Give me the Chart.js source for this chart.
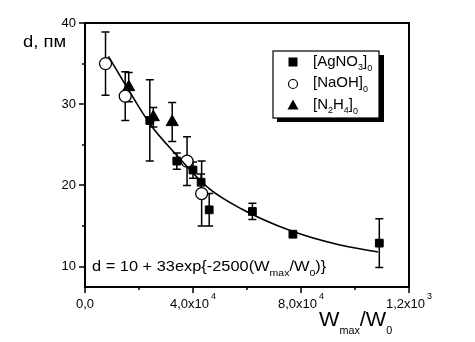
<!DOCTYPE html>
<html>
<head>
<meta charset="utf-8">
<script src="https://cdn.jsdelivr.net/npm/chart.js@4.4.1/dist/chart.umd.min.js"></script>
<style>
  body { margin: 0; background: #fff; }
  #wrap { width: 475px; height: 342px; }
</style>
</head>
<body>
<div id="wrap"><canvas id="chart" width="475" height="342"></canvas></div>
<script>
// values
const agX   = [24000, 34000, 40000, 43000, 46000, 62000, 77000, 109000];
const agY   = [28.0, 23.0, 21.9, 20.4, 17.0, 16.8, 14.0, 12.9];
const agErr = [5.0, 1.0, 1.0, 1.0, 2.0, 1.0, 0.3, 3.0];

const naX   = [7600, 14900, 37800, 43200];
const naY   = [35.0, 31.0, 23.0, 19.0];
const naErr = [3.9, 3.0, 3.0, 4.0];

const n2X   = [16200, 25300, 32300];
const n2Y   = [32.1, 28.4, 27.8];
const n2Err = [1.8, 1.2, 2.4];

// fit curve, traced point by point
const fitX = [8700, 15500, 24000, 34000, 46000, 58000, 76000, 94000, 108500];
const fitY = [35.9, 32.1, 27.6, 23.7, 19.6, 17.1, 14.45, 12.7, 11.8];

const xTicks = [0, 40000, 80000, 120000];
const xMinor = [20000, 60000, 100000];
const xTickText = [["0,0", ""], ["4,0x10", "4"], ["8,0x10", "4"], ["1,2x10", "3"]];
const yTicks = [10, 20, 30, 40];
const yMinor = [15, 25, 35];

const FONT = "'Liberation Sans', Arial, sans-serif";

const toPts = (xs, ys) => xs.map((x, i) => ({ x: x, y: ys[i] }));

// draws text runs: [text, size, dy], stretched horizontally by sx
function runs(ctx, x, y, parts, sx) {
  ctx.save();
  ctx.translate(x, y);
  ctx.scale(sx, 1);
  let cx = 0;
  parts.forEach(p => {
    ctx.font = p[1] + "px " + FONT;
    ctx.fillText(p[0], cx, p[2]);
    cx += ctx.measureText(p[0]).width;
  });
  ctx.restore();
}
function runsWidth(ctx, parts, sx) {
  let w = 0;
  parts.forEach(p => { ctx.font = p[1] + "px " + FONT; w += ctx.measureText(p[0]).width; });
  return w * sx;
}

const errorBars = {
  id: "errorBars",
  beforeDatasetsDraw(chart) {
    const ctx = chart.ctx, xs = chart.scales.x, ys = chart.scales.y;
    ctx.save();
    ctx.strokeStyle = "#000";
    ctx.lineWidth = 1.5;
    [[agX, agY, agErr], [naX, naY, naErr], [n2X, n2Y, n2Err]].forEach(s => {
      s[0].forEach((xv, i) => {
        if (s[2][i] < 0.5) return;
        const px = xs.getPixelForValue(xv);
        const top = ys.getPixelForValue(s[1][i] + s[2][i]);
        const bot = ys.getPixelForValue(s[1][i] - s[2][i]);
        ctx.beginPath();
        ctx.moveTo(px, top); ctx.lineTo(px, bot);
        ctx.moveTo(px - 4, top); ctx.lineTo(px + 4, top);
        ctx.moveTo(px - 4, bot); ctx.lineTo(px + 4, bot);
        ctx.stroke();
      });
    });
    ctx.restore();
  }
};

const frame = {
  id: "frame",
  afterDraw(chart) {
    const ctx = chart.ctx, a = chart.chartArea;
    const xs = chart.scales.x, ys = chart.scales.y;
    ctx.save();
    ctx.strokeStyle = "#000";
    ctx.fillStyle = "#000";
    ctx.lineWidth = 2;
    ctx.strokeRect(a.left, a.top, a.right - a.left, a.bottom - a.top);

    ctx.lineWidth = 1.5;
    ctx.beginPath();
    yTicks.forEach(v => { const p = Math.round(ys.getPixelForValue(v)); ctx.moveTo(a.left, p); ctx.lineTo(a.left - 6, p); });
    yMinor.forEach(v => { const p = Math.round(ys.getPixelForValue(v)); ctx.moveTo(a.left, p); ctx.lineTo(a.left - 3, p); });
    xTicks.forEach(v => { const p = Math.round(xs.getPixelForValue(v)); ctx.moveTo(p, a.bottom); ctx.lineTo(p, a.bottom + 6); });
    xMinor.forEach(v => { const p = Math.round(xs.getPixelForValue(v)); ctx.moveTo(p, a.bottom); ctx.lineTo(p, a.bottom + 3); });
    ctx.stroke();

    // y tick labels
    ctx.textBaseline = "middle";
    ctx.textAlign = "right";
    ctx.font = "13px " + FONT;
    yTicks.forEach(v => ctx.fillText(String(v), a.left - 9, ys.getPixelForValue(v)));

    // x tick labels with superscript
    ctx.textAlign = "left";
    xTicks.forEach((v, i) => {
      const main = xTickText[i][0], sup = xTickText[i][1];
      const mw = runsWidth(ctx, [[main, 13, 0]], 1);
      const w = mw + (sup ? runsWidth(ctx, [[sup, 9, 0]], 1) + 2 : 0);
      const px = xs.getPixelForValue(v) - w / 2;
      ctx.font = "13px " + FONT;
      ctx.fillText(main, px, a.bottom + 17);
      if (sup) {
        ctx.font = "9px " + FONT;
        ctx.fillText(sup, px + mw + 2, a.bottom + 10);
      }
    });

    // axis titles
    runs(ctx, 23, 43, [["d, пм", 16, 0]], 1.15);
    runs(ctx, 319, 320, [["W", 20, 0], ["max", 10, 11], ["/W", 20, 0], ["0", 10, 11]], 1.08);

    // formula
    runs(ctx, 92, 267, [["d = 10 + 33exp{-2500(W", 14, 0], ["max", 9, 7], ["/W", 14, 0], ["0", 9, 7], [")}", 14, 0]], 1.17);

    // legend box
    ctx.fillStyle = "#000";
    ctx.fillRect(277, 55, 107, 67);
    ctx.fillStyle = "#fff";
    ctx.fillRect(273, 51, 106, 67);
    ctx.lineWidth = 1.2;
    ctx.strokeRect(273, 51, 106, 67);
    ctx.fillStyle = "#000";
    ctx.fillRect(288.5, 57.5, 9, 9);
    ctx.beginPath(); ctx.arc(293, 84, 4.5, 0, Math.PI * 2); ctx.stroke();
    ctx.beginPath(); ctx.moveTo(293, 99.5); ctx.lineTo(298.5, 109.5); ctx.lineTo(287.5, 109.5); ctx.closePath(); ctx.fill();
    runs(ctx, 313, 62, [["[AgNO", 15, 0], ["3", 9, 6], ["]", 15, 0], ["0", 9, 7]], 1.0);
    runs(ctx, 313, 83, [["[NaOH]", 15, 0], ["0", 9, 7]], 1.0);
    runs(ctx, 313, 105, [["[N", 15, 0], ["2", 9, 6], ["H", 15, 0], ["4", 9, 6], ["]", 15, 0], ["0", 9, 7]], 1.0);
    ctx.restore();
  }
};

new Chart(document.getElementById("chart"), {
  type: "scatter",
  data: {
    datasets: [
      {
        type: "line",
        label: "fit",
        data: toPts(fitX, fitY),
        borderColor: "#000",
        borderWidth: 1.6,
        pointRadius: 0,
        fill: false,
        cubicInterpolationMode: "monotone"
      },
      {
        label: "[NaOH]0",
        data: toPts(naX, naY),
        pointStyle: "circle",
        pointRadius: 6,
        backgroundColor: "#fff",
        borderColor: "#000",
        borderWidth: 1.3
      },
      {
        label: "[AgNO3]0",
        data: toPts(agX, agY),
        pointStyle: "rect",
        pointRadius: 5.5,
        backgroundColor: "#000",
        borderColor: "#000",
        borderWidth: 1
      },
      {
        label: "[N2H4]0",
        data: toPts(n2X, n2Y),
        pointStyle: "triangle",
        pointRadius: 7,
        backgroundColor: "#000",
        borderColor: "#000",
        borderWidth: 1
      }
    ]
  },
  options: {
    responsive: false,
    animation: false,
    devicePixelRatio: 1,
    layout: { padding: { left: 0, right: 66, top: 23, bottom: 0 } },
    plugins: { legend: { display: false }, tooltip: { enabled: false } },
    scales: {
      x: {
        type: "linear", min: 0, max: 120000,
        ticks: { display: false }, grid: { display: false }, border: { display: false },
        afterFit: s => { s.height = 55; }
      },
      y: {
        type: "linear", min: 7.5, max: 40,
        ticks: { display: false }, grid: { display: false }, border: { display: false },
        afterFit: s => { s.width = 85; }
      }
    }
  },
  plugins: [errorBars, frame]
});
</script>
</body>
</html>
